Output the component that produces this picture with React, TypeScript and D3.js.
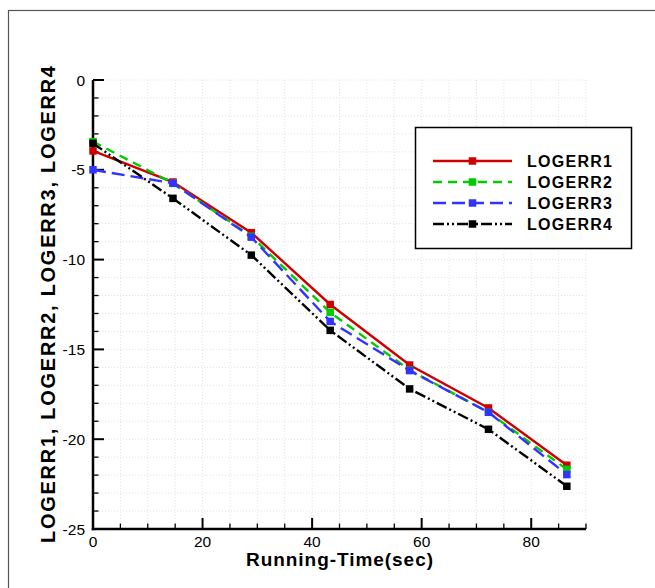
import React from "react";
import * as d3 from "d3";

const times = [0, 14.6, 28.9, 43.3, 57.8, 72.2, 86.5];
const logerr1 = [-3.95, -5.68, -8.5, -12.5, -15.87, -18.26, -21.45];
const logerr2 = [-3.43, -5.75, -8.7, -12.94, -16.15, -18.5, -21.68];
const logerr3 = [-5.0, -5.75, -8.75, -13.44, -16.18, -18.5, -21.97];
const logerr4 = [-3.53, -6.59, -9.75, -13.94, -17.2, -19.45, -22.62];
const seriesNames = ["LOGERR1", "LOGERR2", "LOGERR3", "LOGERR4"];
const xMajorTicks = [0, 20, 40, 60, 80];
const yMajorTicks = [0, -5, -10, -15, -20, -25];

const seriesData = [logerr1, logerr2, logerr3, logerr4];
const colors = ["#cc0000", "#00cc00", "#3333ff", "#000000"];
const dashes = [null, "9,6", "13,6", "11,3,2,3,2,3"];

export default function App() {
  const W = 655, H = 588;
  const x = d3.scaleLinear().domain([0, 90]).range([93, 586]);
  const y = d3.scaleLinear().domain([-25, 0]).range([529, 80]);
  const line = d3
    .line<number>()
    .x((_, i) => x(times[i]))
    .y((d) => y(d));

  const xMinor = d3.range(0, 91, 5);
  const yMinor = d3.range(-25, 1, 1);
  const font = "Liberation Sans, Arial, sans-serif";

  const legX0 = 433, legX1 = 512, legTextX = 527, legY0 = 161, legDy = 21;

  return (
    <svg
      width={W}
      height={H}
      style={{ position: "absolute", left: 0, top: 0, background: "#fff" }}
      fontFamily={font}
    >
      <rect x={0} y={0} width={W} height={H} fill="#fff" />
      <rect x={8.5} y={10.5} width={700} height={700} fill="none" stroke="#555" strokeWidth={1.2} />
      {/* grid */}
      <g stroke="#e2e2e2" strokeWidth={1} strokeDasharray="1,2">
        {xMinor.map((v) => (
          <line key={"gx" + v} x1={x(v)} x2={x(v)} y1={y(0)} y2={y(-25)} />
        ))}
        {yMinor.map((v) => (
          <line key={"gy" + v} x1={x(0)} x2={x(90)} y1={y(v)} y2={y(v)} />
        ))}
      </g>
      {/* ticks */}
      <g stroke="#000">
        {xMinor.map((v) => {
          const major = v % 20 === 0;
          return (
            <line
              key={"tx" + v}
              x1={x(v)}
              x2={x(v)}
              y1={y(-25)}
              y2={y(-25) - (major ? 11 : 5.5)}
              strokeWidth={major ? 2 : 1.3}
            />
          );
        })}
        {yMinor.map((v) => {
          const major = v % 5 === 0;
          return (
            <line
              key={"ty" + v}
              x1={x(0)}
              x2={x(0) + (major ? 11 : 5.5)}
              y1={y(v)}
              y2={y(v)}
              strokeWidth={major ? 2 : 1.3}
            />
          );
        })}
      </g>
      {/* axes */}
      <line x1={x(0)} x2={x(0)} y1={y(0)} y2={y(-25) + 1.25} stroke="#000" strokeWidth={2.5} />
      <line x1={x(0) - 1.25} x2={x(90)} y1={y(-25)} y2={y(-25)} stroke="#000" strokeWidth={2.5} />
      {/* tick labels */}
      {xMajorTicks.map((v) => (
        <text key={"lx" + v} x={x(v)} y={547} fontSize={15.5} textAnchor="middle" fill="#000">
          {v}
        </text>
      ))}
      {yMajorTicks.map((v) => (
        <text key={"ly" + v} x={85} y={y(v) + 5.5} fontSize={15.5} textAnchor="end" fill="#000">
          {v}
        </text>
      ))}
      {/* axis titles */}
      <text
        x={339.5}
        y={566}
        fontSize={19}
        fontWeight="bold"
        textAnchor="middle"
        textLength={187}
        lengthAdjust="spacing"
      >
        Running-Time(sec)
      </text>
      <text
        transform={`translate(55,${(y(0) + y(-25)) / 2}) rotate(-90)`}
        fontSize={20}
        fontWeight="bold"
        textAnchor="middle"
        textLength={477}
        lengthAdjust="spacing"
      >
        LOGERR1, LOGERR2, LOGERR3, LOGERR4
      </text>
      {/* series */}
      {seriesData.map((s, k) => (
        <g key={"s" + k}>
          <path
            d={line(s) || ""}
            fill="none"
            stroke={colors[k]}
            strokeWidth={2.4}
            strokeDasharray={dashes[k] || undefined}
          />
          {s.map((v, i) => (
            <rect
              key={i}
              x={x(times[i]) - 3.75}
              y={y(v) - 3.75}
              width={7.5}
              height={7.5}
              fill={colors[k]}
            />
          ))}
        </g>
      ))}
      {/* legend */}
      <rect x={415.5} y={127.5} width={216} height={121} fill="#fff" stroke="#000" strokeWidth={1.5} />
      {seriesNames.map((n, k) => {
        const ly = legY0 + k * legDy;
        return (
          <g key={"lg" + k}>
            <line
              x1={legX0}
              x2={legX1}
              y1={ly}
              y2={ly}
              stroke={colors[k]}
              strokeWidth={2.4}
              strokeDasharray={dashes[k] || undefined}
            />
            <rect x={(legX0 + legX1) / 2 - 3.75} y={ly - 3.75} width={7.5} height={7.5} fill={colors[k]} />
            <text
              x={legTextX}
              y={ly + 5.5}
              fontSize={16}
              fontWeight="bold"
              textLength={85}
              lengthAdjust="spacing"
            >
              {n}
            </text>
          </g>
        );
      })}
    </svg>
  );
}
